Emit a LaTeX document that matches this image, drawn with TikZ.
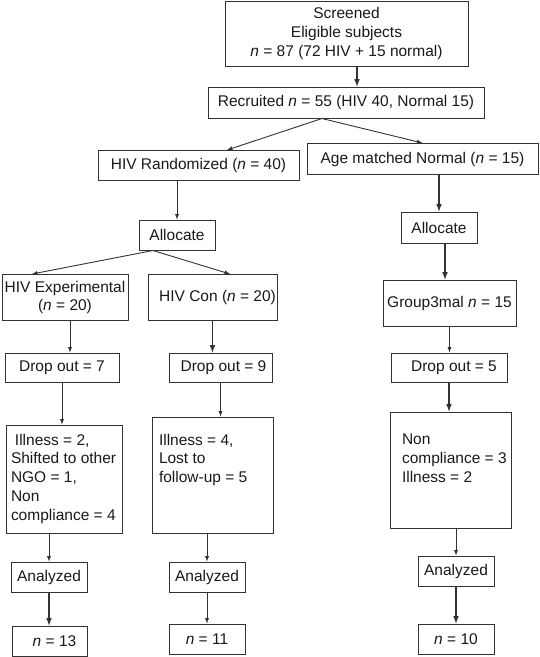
\documentclass[tikz,border=0pt]{standalone}
\usepackage{fontspec}
\setmainfont{Liberation Sans}
\usetikzlibrary{shapes,arrows,positioning}

\begin{document}
\begin{tikzpicture}[
    x=1pt, y=-1pt,
    font=\fontsize{15.5}{18.7}\selectfont,
    box/.style={rectangle, draw=black!80, line width=1pt, text=black!90, inner sep=0pt, align=center, minimum height=30pt},
    arrow/.style={-latex, line width=0.9pt, draw=black!80},
    heavy/.style={arrow, line width=1.5pt}
]

\useasboundingbox (0,0) rectangle (540,657);

% Screening and recruitment
\node[box, minimum width=243pt, minimum height=65pt] at (346.5,33.5) (screened) {Screened\\Eligible subjects\\\textit{n} = 87 (72 HIV + 15 normal)};
\node[box, minimum width=276pt, minimum height=31pt] at (346,102.5) (recruited) {Recruited \textit{n} = 55 (HIV 40, Normal 15)};

% Two arms
\node[box, minimum width=201pt] at (198.5,165.5) (hivrand) {HIV Randomized (\textit{n} = 40)};
\node[box, minimum width=231pt, minimum height=31pt] at (422.5,159) (agenorm) {Age matched Normal (\textit{n} = 15)};
\node[box, minimum width=76pt] at (177,235) (alloc1) {Allocate};
\node[box, minimum width=76pt, minimum height=31pt] at (439,227.5) (alloc2) {Allocate};

% Groups
\node[box, minimum width=126pt, minimum height=46pt] at (65,297.5) (hivexp) {HIV Experimental\\(\textit{n} = 20)};
\node[box, minimum width=129pt, minimum height=46pt] at (212.5,297.5) (hivcon) {\hspace*{10pt}HIV Con (\textit{n} = 20)};
\node[box, minimum width=133pt, minimum height=46pt] at (449.5,303) (group3) {Group3mal \textit{n} = 15};

% Drop outs
\node[box, minimum width=114pt, minimum height=29pt] at (62,367.5) (drop7) {Drop out = 7};
\node[box, minimum width=103pt, minimum height=29pt] at (220.5,367.5) (drop9) {\hspace*{6pt}Drop out = 9};
\node[box, minimum width=116pt, minimum height=29pt] at (449,367.5) (drop5) {\hspace*{10pt}Drop out = 5};

% Reasons
\node[box, minimum width=116pt, minimum height=108pt] at (64,479) (ill2) {\parbox[t][90pt][t]{106pt}{\hspace*{4pt}Illness = 2,\\Shifted to other\\NGO = 1,\\Non\\compliance = 4}};
\node[box, minimum width=121pt, minimum height=116pt] at (212.5,475) (ill4) {\parbox[t][82pt][t]{107pt}{Illness = 4,\\Lost to\\follow-up = 5}};
\node[box, minimum width=121pt, minimum height=116pt] at (451,470) (noncomp) {\parbox[t][72pt][t]{98pt}{Non\\\mbox{compliance = 3}\\Illness = 2}};

% Analysis
\node[box, minimum width=76pt] at (49,577) (anal1) {Analyzed};
\node[box, minimum width=76pt] at (207,577) (anal2) {Analyzed};
\node[box, minimum width=76pt] at (456,571) (anal3) {Analyzed};
\node[box, minimum width=75pt] at (49.5,641) (n13) {\hspace*{10pt}\textit{n} = 13};
\node[box, minimum width=76pt] at (207,639) (n11) {\textit{n} = 11};
\node[box, minimum width=76pt] at (456,639) (n10) {\textit{n} = 10};

% Arrows
\draw[heavy] ([xshift=10.5pt]screened.south) -- ([xshift=10.5pt]screened.south |- recruited.north);
\draw[arrow] ([xshift=-24pt]recruited.south) -- ([xshift=28.5pt]hivrand.north);
\draw[arrow] ([xshift=-24pt]recruited.south) -- (agenorm.north);
\draw[arrow] (hivrand.south -| alloc1.north) -- (alloc1.north);
\draw[heavy] (agenorm.south -| alloc2.north) -- (alloc2.north);
\draw[arrow] ([xshift=-24pt]alloc1.south) -- ([xshift=-33pt]hivexp.north);
\draw[arrow] ([xshift=-24pt]alloc1.south) -- ([xshift=17.5pt]hivcon.north);
\draw[heavy] ([xshift=6pt]alloc2.south) -- ([xshift=6pt]alloc2.south |- group3.north);
\draw[arrow] ([xshift=5pt]hivexp.south) -- ([xshift=5pt]hivexp.south |- drop7.north);
\draw[heavy] (hivcon.south) -- (hivcon.south |- drop9.north);
\draw[arrow] (group3.south) -- (group3.south |- drop5.north);
\draw[arrow] (drop7.south) -- (drop7.south |- ill2.north);
\draw[arrow] (drop9.south) -- (drop9.south |- ill4.north);
\draw[heavy] (drop5.south) -- (drop5.south |- noncomp.north);
\draw[arrow] (ill2.south -| anal1.north) -- (anal1.north);
\draw[heavy] (anal1.south) -- (anal1.south |- n13.north);
\draw[arrow] (ill4.south -| anal2.north) -- (anal2.north);
\draw[arrow] (anal2.south) -- (anal2.south |- n11.north);
\draw[arrow] (noncomp.south -| anal3.north) -- (anal3.north);
\draw[heavy] (anal3.south) -- (anal3.south |- n10.north);

\end{tikzpicture}
\end{document}
